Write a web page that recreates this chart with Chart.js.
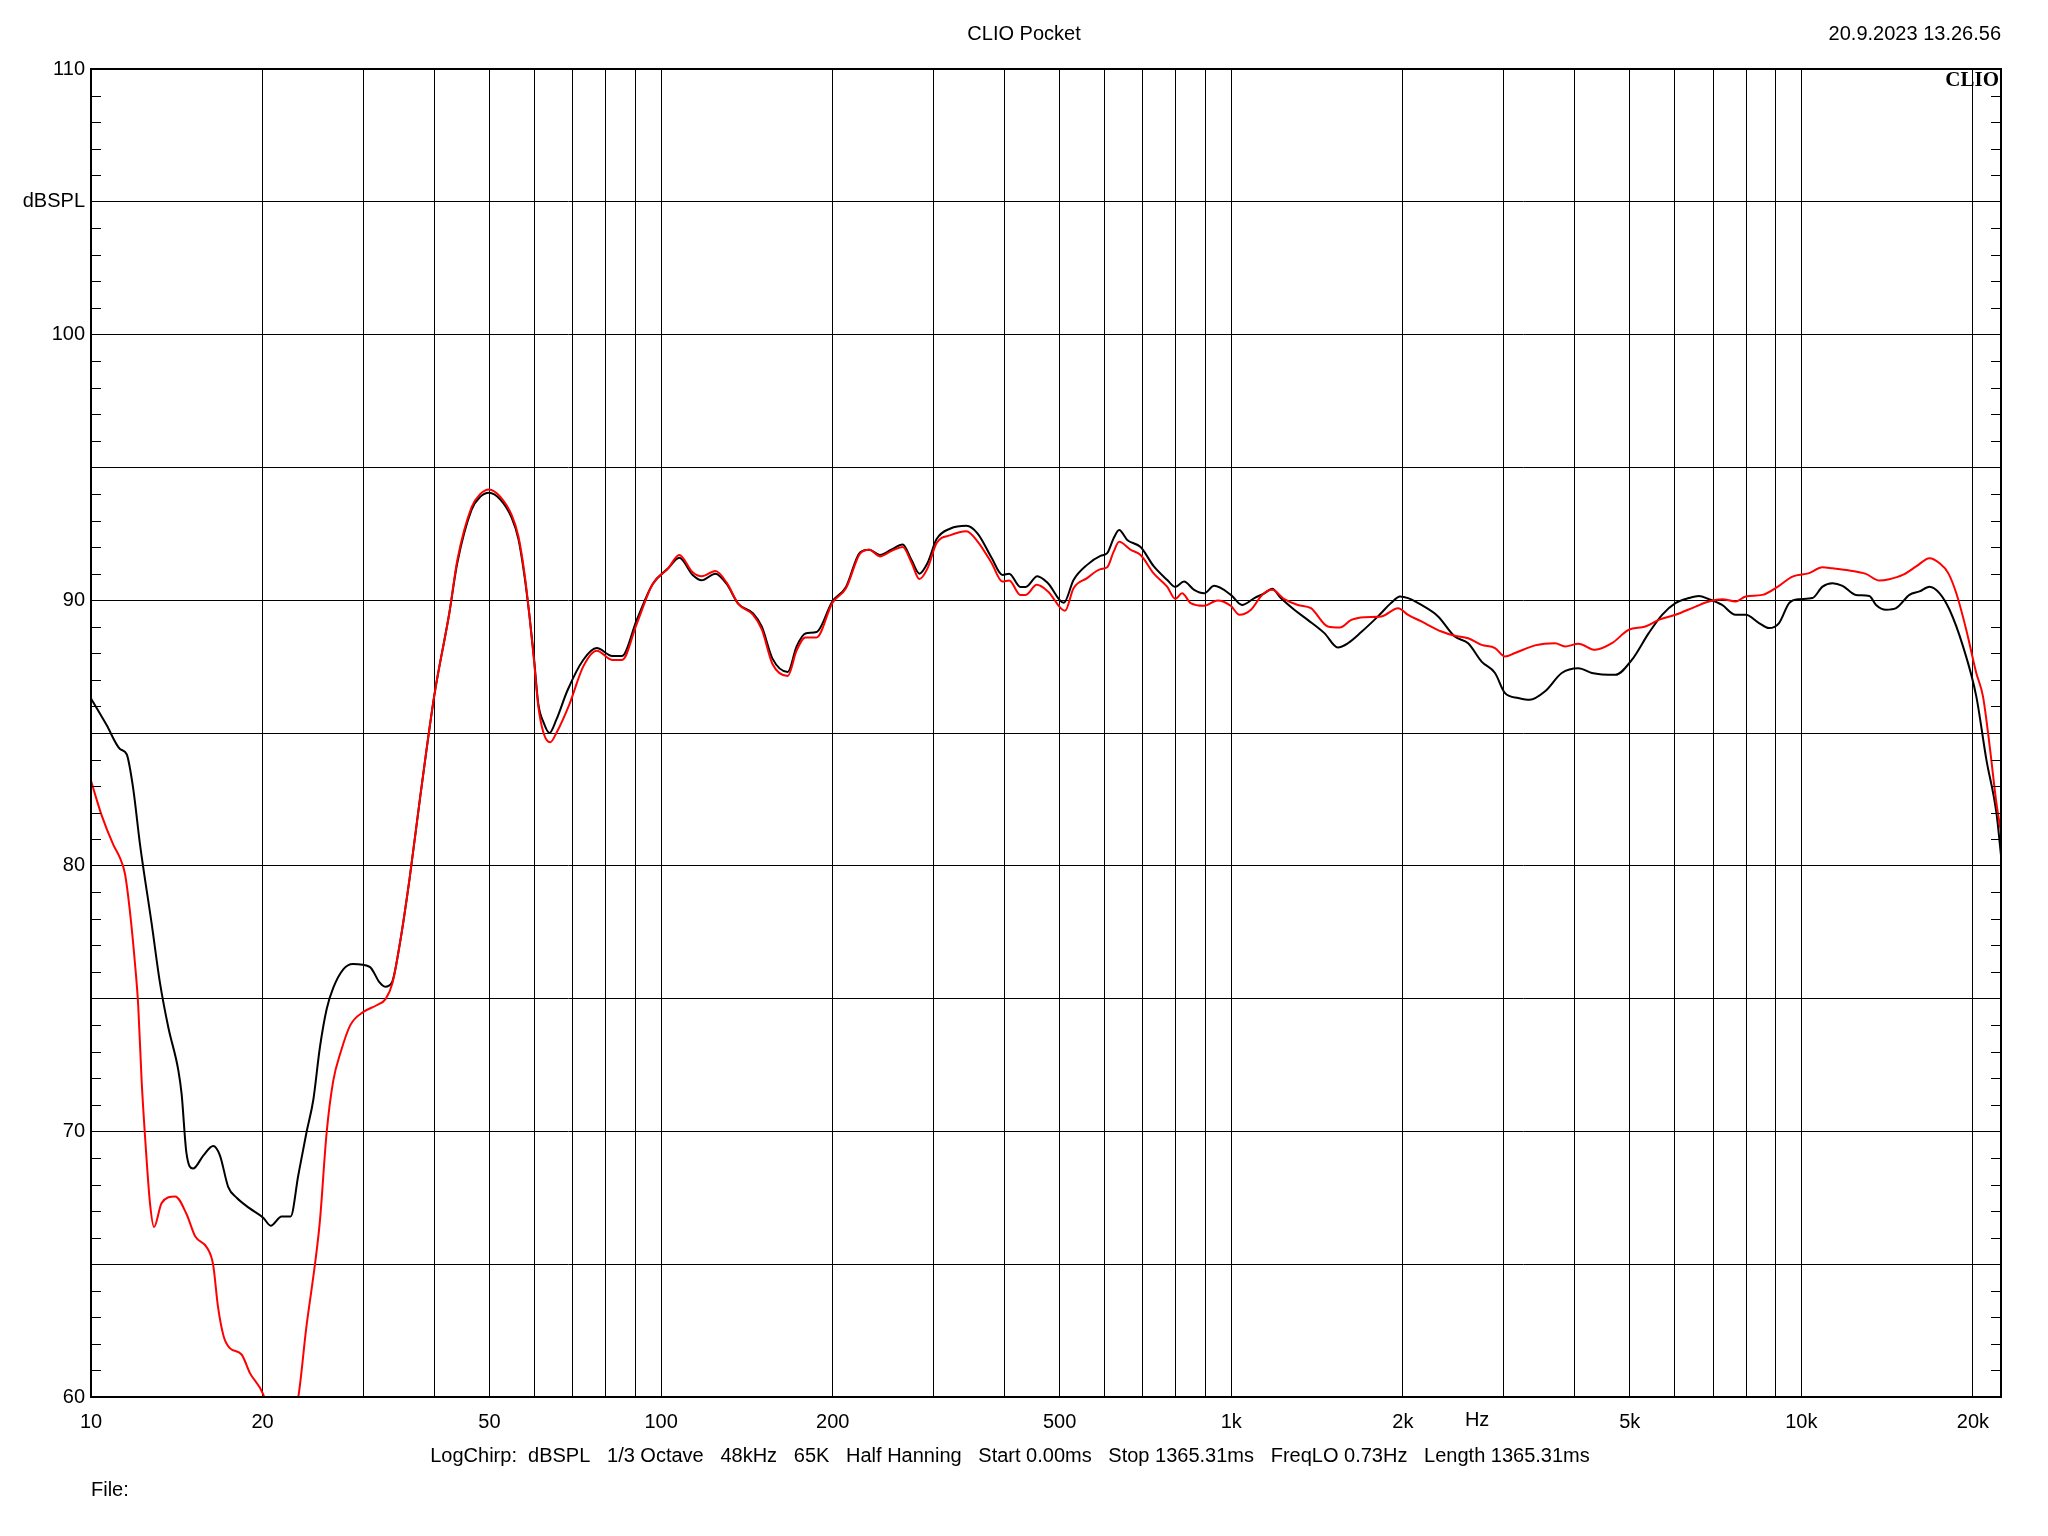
<!DOCTYPE html>
<html>
<head>
<meta charset="utf-8">
<title>CLIO Pocket</title>
<script src="https://cdn.jsdelivr.net/npm/chart.js@4.4.1/dist/chart.umd.min.js"></script>
<style>
  html, body { margin: 0; padding: 0; background: #fff; }
  canvas { display: block; }
</style>
</head>
<body>
<canvas id="clio" width="2048" height="1536"></canvas>
<script>
// ====================== MEASURED CURVES ======================
// black trace
const blackFreq = [
    10, 10.65, 11.24, 11.55, 11.86, 12.19, 12.78, 13.21, 13.67, 14.23, 14.42, 14.7, 15.1, 15.75, 16.38, 16.83,
    17.41, 18.01, 18.99, 20.05, 20.66, 21.6, 22.4, 23.1, 23.87, 24.55, 25.2, 25.9, 26.6, 27.7, 28.8, 30.8,
    32.1, 32.8, 33.7, 34.8, 36.2, 37.8, 40, 42.5, 43.9, 46.5, 48.2, 49.9, 52.2, 54.7, 56.2, 57.6,
    58.7, 59.8, 60.9, 62.2, 63.7, 65.5, 68.5, 73, 77.1, 82.1, 85.4, 90.6, 96.6, 102.9, 107.6, 113.6,
    117.8, 124.5, 130.4, 136.6, 145, 150.2, 156.8, 166.8, 172.8, 179.1, 187.3, 199.7, 211, 223.3, 231.8, 242,
    253.4, 265.3, 275.1, 283.8, 293.3, 304.3, 321.8, 343.2, 359.4, 379.9, 397, 408, 426.7, 436, 457, 477,
    508.6, 529, 558.7, 589.8, 606, 622, 636, 657, 693.5, 731.7, 772.4, 797.8, 826.4, 860.8, 896.4, 933.3,
    998.4, 1045, 1098, 1143, 1180, 1222, 1290, 1362, 1457, 1538, 1602, 1691, 1809, 1909, 1977, 2043,
    2156, 2306, 2467, 2604, 2749, 2902, 3022, 3188, 3338, 3553, 3800, 4065, 4291, 4718, 5047, 5399,
    5699, 6014, 6348, 6610, 6885, 7263, 7668, 7986, 8431, 8777, 9140, 9519, 9911, 10462, 10894, 11342,
    11812, 12468, 13161, 13523, 14081, 14663, 15474, 16118, 16780, 17480, 18197, 19215, 20272, 21115, 21987, 22410
];
const blackSpl = [
    86.3, 85.3, 84.4, 84.2, 82.9, 80.8, 77.8, 75.6, 73.9, 72.3, 71.4, 69.2, 68.6, 69.1, 69.45, 69.1,
    67.9, 67.5, 67.1, 66.75, 66.45, 66.8, 66.8, 68.35, 69.95, 71.2, 73.15, 74.6, 75.4, 76.1, 76.3, 76.2,
    75.6, 75.45, 75.6, 77.05, 79.5, 82.6, 86.4, 89.5, 91.4, 93.4, 93.9, 94.05, 93.8, 93.1, 92.3, 90.9,
    89.5, 87.9, 86.1, 85.4, 85.0, 85.5, 86.6, 87.75, 88.2, 87.9, 87.9, 89.25, 90.6, 91.2, 91.6, 90.95,
    90.75, 91.0, 90.6, 89.86, 89.5, 89.0, 87.8, 87.3, 88.25, 88.75, 88.8, 89.95, 90.5, 91.8, 91.9, 91.7,
    91.9, 92.1, 91.5, 91.0, 91.4, 92.3, 92.7, 92.8, 92.5, 91.6, 90.95, 91.0, 90.5, 90.5, 90.9, 90.64,
    89.9, 90.76, 91.33, 91.67, 91.77, 92.33, 92.64, 92.27, 92.0, 91.27, 90.76, 90.5, 90.7, 90.39, 90.26, 90.54,
    90.2, 89.82, 90.08, 90.26, 90.43, 90.08, 89.64, 89.26, 88.76, 88.22, 88.38, 88.8, 89.39, 89.9, 90.14, 90.08,
    89.82, 89.39, 88.63, 88.38, 87.69, 87.26, 86.5, 86.32, 86.25, 86.57, 87.26, 87.44, 87.26, 87.19, 87.76, 88.76,
    89.45, 89.89, 90.08, 90.16, 90.04, 89.82, 89.45, 89.45, 89.14, 88.95, 89.14, 89.89, 90.04, 90.08, 90.51, 90.64,
    90.54, 90.2, 90.16, 89.82, 89.64, 89.7, 90.2, 90.33, 90.51, 90.26, 89.64, 88.26, 86.38, 84.0, 82.0, 80.36
];

// red trace
const redFreq = [
    10, 10.44, 10.94, 11.24, 11.47, 11.7, 11.94, 12.1, 12.27, 12.44, 12.69, 12.9, 13.3, 14.05, 14.7, 15.23,
    16, 16.38, 16.7, 17.08, 17.5, 18.37, 19, 20.05, 21, 22, 23.1, 23.87, 24.7, 25.2, 25.9, 26.6,
    27.4, 28.5, 30.05, 31.7, 32.9, 33.8, 34.8, 36.2, 37.8, 40, 42.5, 43.9, 46.5, 48.2, 49.9, 52.2,
    54.7, 56.2, 57.6, 58.7, 59.8, 60.9, 62.2, 63.9, 65.5, 69.1, 73, 77.1, 82.1, 85.4, 90.6, 96.6,
    102.9, 107.6, 113.6, 117.8, 124.5, 130.4, 136.6, 145, 150.2, 156.8, 166.8, 172.8, 179.1, 187.3, 199.7, 211,
    223.3, 231.8, 242, 253.4, 265.3, 275.1, 283.8, 293.3, 304.3, 321.8, 343.2, 359.4, 379.9, 397, 408, 426.7,
    436, 456, 477, 511, 529, 558.7, 589.8, 606, 622, 636, 666, 693.5, 731.7, 772, 798, 820,
    849, 896, 946, 998, 1034, 1083, 1133, 1180, 1239, 1309, 1380, 1477, 1551, 1624, 1713, 1834,
    1962, 2043, 2156, 2338, 2467, 2604, 2749, 2902, 3022, 3146, 3412, 3700, 3851, 4065, 4349, 4653,
    4977, 5327, 5622, 6014, 6524, 6885, 7263, 7668, 7986, 8544, 9140, 9647, 10320, 10894, 11342, 12134,
    12981, 13703, 14265, 15062, 15903, 16780, 17480, 18101, 18700, 19470, 20272, 20827, 21400, 21987, 22410
];
const redSpl = [
    83.2, 81.9, 80.8, 80.3, 79.7, 78.3, 76.35, 74.75, 71.9, 69.8, 67.3, 66.4, 67.3, 67.55, 66.9, 66.05,
    65.6, 64.97, 63.4, 62.3, 61.85, 61.6, 60.9, 60.1, 58.5, 58.4, 60.0, 62.65, 64.97, 66.6, 69.95, 71.9,
    72.97, 74.0, 74.5, 74.75, 75.0, 75.6, 77.05, 79.5, 82.6, 86.4, 89.5, 91.5, 93.5, 94.0, 94.17, 93.9,
    93.2, 92.4, 91.0, 89.5, 87.8, 86.0, 85.0, 84.65, 85.0, 86.1, 87.5, 88.1, 87.75, 87.75, 89.1, 90.6,
    91.2, 91.7, 91.05, 90.9, 91.1, 90.65, 89.86, 89.45, 88.9, 87.6, 87.15, 88.1, 88.6, 88.6, 89.9, 90.45,
    91.75, 91.9, 91.65, 91.85, 92.0, 91.4, 90.8, 91.2, 92.15, 92.45, 92.6, 92.2, 91.4, 90.7, 90.74, 90.2,
    90.2, 90.58, 90.33, 89.6, 90.45, 90.83, 91.17, 91.24, 91.83, 92.2, 91.9, 91.7, 91.0, 90.51, 90.05, 90.26,
    89.89, 89.79, 89.99, 89.79, 89.45, 89.64, 90.2, 90.39, 90.04, 89.82, 89.7, 89.01, 88.97, 89.26, 89.36, 89.39,
    89.7, 89.45, 89.2, 88.82, 88.66, 88.57, 88.32, 88.2, 87.88, 88.01, 88.3, 88.38, 88.26, 88.36, 88.13, 88.38,
    88.88, 89.01, 89.26, 89.45, 89.76, 89.95, 90.04, 89.95, 90.14, 90.2, 90.54, 90.89, 91.02, 91.24, 91.2, 91.12,
    90.99, 90.74, 90.79, 90.95, 91.27, 91.58, 91.39, 91.02, 90.26, 88.88, 87.26, 86.38, 84.5, 82.37, 81.24
];

// ====================== AXES / TEXT ======================
const gridFreqs = [
    10, 20, 30, 40, 50, 60, 70, 80, 90,
    100, 200, 300, 400, 500, 600, 700, 800, 900,
    1000, 2000, 3000, 4000, 5000, 6000, 7000, 8000, 9000,
    10000, 20000
];
const freqLabels = { 10: '10', 20: '20', 50: '50', 100: '100', 200: '200', 500: '500',
                     1000: '1k', 2000: '2k', 5000: '5k', 10000: '10k', 20000: '20k' };
const HZ_AT = 2700;            // where the unit label sits on the frequency axis

const TITLE = 'CLIO Pocket';
const STAMP = '20.9.2023 13.26.56';
const INFO  = 'LogChirp:  dBSPL   1/3 Octave   48kHz   65K   Half Hanning   Start 0.00ms   Stop 1365.31ms   FreqLO 0.73Hz   Length 1365.31ms';
const FILE  = 'File:';

const FONT = '"Liberation Sans", Arial, sans-serif';

const toXY = (fs, vs) => fs.map((f, i) => ({ x: f, y: vs[i] }));

// frame, 1 dB edge ticks and the surrounding texts
const clioDecor = {
    id: 'clioDecor',
    afterDatasetsDraw(chart) {
        const { ctx, chartArea: a, scales: { x, y } } = chart;
        ctx.save();
        ctx.strokeStyle = '#000';

        ctx.lineWidth = 1;
        ctx.beginPath();
        for (let v = 60; v <= 110; v++) {
            if (v % 5 === 0) continue;
            const py = Math.round(y.getPixelForValue(v)) + 0.5;
            ctx.moveTo(a.left, py);  ctx.lineTo(a.left + 10, py);
            ctx.moveTo(a.right - 10, py); ctx.lineTo(a.right, py);
        }
        ctx.stroke();

        ctx.lineWidth = 2;
        ctx.strokeRect(a.left, a.top, a.right - a.left, a.bottom - a.top);

        ctx.fillStyle = '#000';
        ctx.font = '20px ' + FONT;
        ctx.textBaseline = 'middle';
        ctx.textAlign = 'center';
        ctx.fillText(TITLE, chart.width / 2, 34);
        ctx.fillText(INFO, 1010, 1456);
        ctx.fillText('Hz', x.getPixelForValue(HZ_AT), 1420);
        ctx.textAlign = 'right';
        ctx.fillText(STAMP, a.right, 34);
        ctx.textAlign = 'left';
        ctx.fillText(FILE, a.left, 1490);

        ctx.font = 'bold 21px "Liberation Serif", "DejaVu Serif", serif';
        ctx.textAlign = 'right';
        ctx.textBaseline = 'top';
        ctx.fillText('CLIO', a.right - 2, a.top + 1);
        ctx.restore();
    }
};

new Chart(document.getElementById('clio').getContext('2d'), {
    type: 'line',
    data: {
        datasets: [
            { label: 'red',   data: toXY(redFreq, redSpl),     borderColor: '#ff0000', borderWidth: 2, pointRadius: 0, cubicInterpolationMode: 'monotone' },
            { label: 'black', data: toXY(blackFreq, blackSpl), borderColor: '#000000', borderWidth: 2, pointRadius: 0, cubicInterpolationMode: 'monotone' }
        ]
    },
    options: {
        responsive: false,
        animation: false,
        devicePixelRatio: 1,
        layout: { padding: { top: 69, right: 47, left: 0, bottom: 0 } },
        plugins: { legend: { display: false }, tooltip: { enabled: false } },
        scales: {
            x: {
                type: 'logarithmic',
                min: 10,
                max: 22400,
                afterBuildTicks: s => { s.ticks = gridFreqs.map(v => ({ value: v })); },
                afterFit: s => { s.height = 139; },
                grid: { color: '#000', lineWidth: 1, drawTicks: false },
                border: { display: false },
                ticks: {
                    autoSkip: false, maxRotation: 0, minRotation: 0, padding: 13,
                    color: '#000', font: { family: FONT, size: 20 },
                    callback: v => freqLabels[v] || ''
                }
            },
            y: {
                min: 60,
                max: 110,
                afterFit: s => { s.width = 91; },
                grid: { color: '#000', lineWidth: 1, drawTicks: false },
                border: { display: false },
                ticks: {
                    stepSize: 5, padding: 6,
                    color: '#000', font: { family: FONT, size: 20 },
                    callback: v => v === 105 ? 'dBSPL' : (v % 10 === 0 ? v : '')
                }
            }
        }
    },
    plugins: [clioDecor]
});
</script>
</body>
</html>
